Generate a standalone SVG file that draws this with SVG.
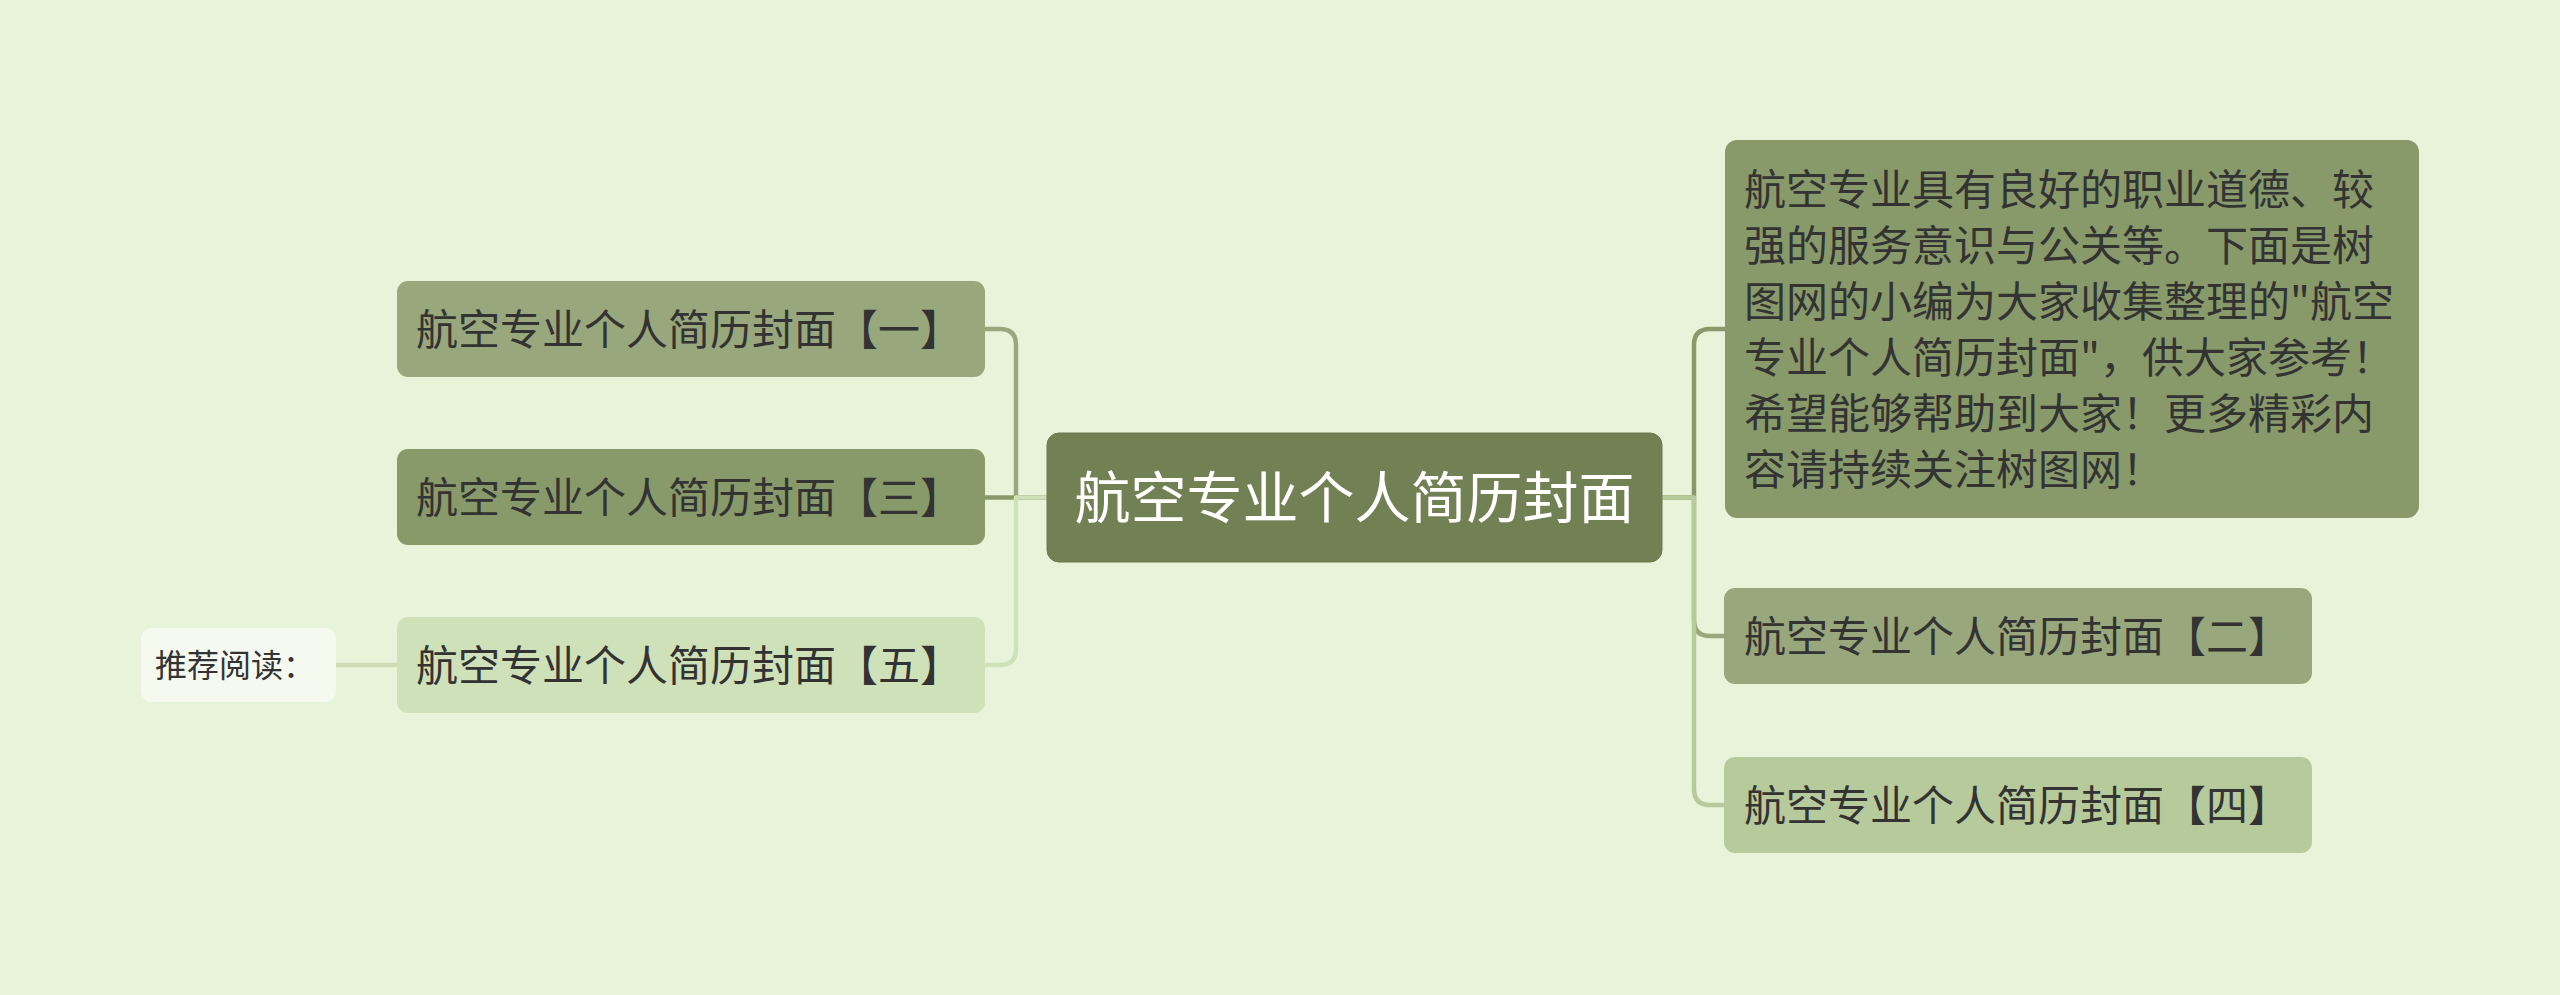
<svg xmlns="http://www.w3.org/2000/svg" width="2560" height="995" viewBox="0 0 2560 995">
<style>
.t{font-family:"Noto Sans CJK SC","Noto Sans",sans-serif;fill:#333333;dominant-baseline:central}
.s{font-size:42px}
.c{fill:none;stroke-width:4.5;stroke-linejoin:round}
</style>
<rect width="2560" height="995" fill="#e7f4da"/>
<g id="connectors">
<path class="c" stroke="#98a87c" d="M1047 497.5 H1016 V345 Q1016 329 1000 329 H985"/>
<path class="c" stroke="#889a6a" d="M1047 497.5 H985"/>
<path class="c" stroke="#cfe1b9" d="M1047 497.5 H1016 V649 Q1016 665 1000 665 H985"/>
<path class="c" stroke="#cddcb5" d="M336 665 H397"/>
<path class="c" stroke="#889a6a" d="M1662 497.5 H1694 V345 Q1694 329 1710 329 H1725"/>
<path class="c" stroke="#98a87c" d="M1662 497.5 H1694 V620 Q1694 636 1710 636 H1724"/>
<path class="c" stroke="#b7ca9b" d="M1662 497.5 H1694 V789 Q1694 805 1710 805 H1724"/>
</g>
<g id="center">
<rect x="1047" y="433" width="615" height="129" rx="12" fill="#728153" stroke="#6a7a4c" stroke-width="1"/>
<text class="t" x="1354.5" y="493" font-size="56" text-anchor="middle" style="fill:#ffffff">航空专业个人简历封面</text>
</g>
<g id="n1">
<rect x="397" y="281" width="588" height="96" rx="11" fill="#98a87c"/>
<text class="t s" x="416" y="326">航空专业个人简历封面【一】</text>
</g>
<g id="n3">
<rect x="397" y="449" width="588" height="96" rx="11" fill="#889a6a"/>
<text class="t s" x="416" y="494">航空专业个人简历封面【三】</text>
</g>
<g id="n5">
<rect x="397" y="617" width="588" height="96" rx="11" fill="#cfe1b9"/>
<text class="t s" x="416" y="662">航空专业个人简历封面【五】</text>
</g>
<g id="recommend">
<rect x="141" y="628" width="195" height="74" rx="11" fill="#f5f9f0"/>
<text class="t" x="155" y="663" font-size="32">推荐阅读：</text>
</g>
<g id="desc">
<rect x="1725" y="140" width="694" height="378" rx="12" fill="#889a6a"/>
<text class="t s" x="1744">
<tspan x="1744" y="186">航空专业具有良好的职业道德、较</tspan>
<tspan x="1744" y="242">强的服务意识与公关等。下面是树</tspan>
<tspan x="1744" y="298">图网的小编为大家收集整理的"航空</tspan>
<tspan x="1744" y="354">专业个人简历封面"，供大家参考！</tspan>
<tspan x="1744" y="410">希望能够帮助到大家！更多精彩内</tspan>
<tspan x="1744" y="466">容请持续关注树图网！</tspan>
</text>
</g>
<g id="n2">
<rect x="1724" y="588" width="588" height="96" rx="11" fill="#98a87c"/>
<text class="t s" x="1744" y="633">航空专业个人简历封面【二】</text>
</g>
<g id="n4">
<rect x="1724" y="757" width="588" height="96" rx="11" fill="#b7ca9b"/>
<text class="t s" x="1744" y="802">航空专业个人简历封面【四】</text>
</g>
</svg>
